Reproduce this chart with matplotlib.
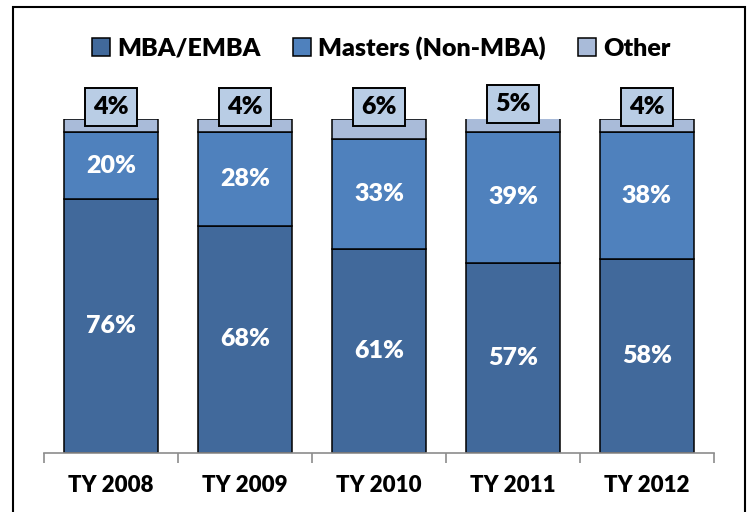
import numpy as np
import matplotlib.pyplot as plt
from matplotlib.patches import Rectangle, Patch

years = ["TY 2008", "TY 2009", "TY 2010", "TY 2011", "TY 2012"]
mba = [76, 68, 61, 57, 58]
masters = [20, 28, 33, 39, 38]
other = [4, 4, 6, 5, 4]

c_mba = "#41699B"
c_mas = "#4F81BD"
c_oth = "#A9BBD9"
c_box = "#B9CDE5"

plt.rcParams['font.family'] = ['Lato', 'DejaVu Sans']

fig = plt.figure(figsize=(7.48, 5.12), dpi=100)
ax = fig.add_axes([0.0588, 0.1152, 0.8957, 0.6524])

x = np.arange(len(years))
mba_f = np.array(mba) / 100
mas_f = np.array(masters) / 100
oth_f = np.array(other) / 100

ax.bar(x, mba_f, 0.7, color=c_mba, edgecolor="black", linewidth=1.1)
ax.bar(x, mas_f, 0.7, bottom=mba_f, color=c_mas, edgecolor="black", linewidth=1.1)
ax.bar(x, oth_f, 0.7, bottom=mba_f + mas_f, color=c_oth, edgecolor="black", linewidth=1.1)

for i in range(len(years)):
    ax.text(x[i], mba_f[i] / 2, f"{mba[i]}%", ha="center", va="center",
            color="white", fontsize=18, fontweight="heavy")
    ax.text(x[i], mba_f[i] + mas_f[i] / 2, f"{masters[i]}%", ha="center", va="center",
            color="white", fontsize=18, fontweight="heavy")
    top = mba_f[i] + mas_f[i] + oth_f[i]
    ax.annotate(f"{other[i]}%", (x[i], top), xytext=(0, 12), textcoords="offset pixels",
                ha="center", va="center", fontsize=18, fontweight="heavy", color="black",
                bbox=dict(boxstyle="square,pad=0.32", fc=c_box, ec="black", lw=1.4),
                annotation_clip=False)

ax.set_xlim(-0.5, len(years) - 0.5)
ax.set_ylim(0, 1)
ax.set_xticks(x)
ax.set_xticklabels(years, fontsize=16, fontweight="heavy")
ax.set_xticks(np.arange(-0.5, len(years)), minor=True)
ax.tick_params(axis="x", which="major", length=0, pad=16)
ax.tick_params(axis="x", which="minor", length=7, color="#8c8c8c", width=1.2)
ax.set_yticks([])
for s in ["left", "right", "top"]:
    ax.spines[s].set_visible(False)
ax.spines["bottom"].set_color("#8c8c8c")
ax.spines["bottom"].set_linewidth(1.2)

handles = [Patch(fc=c_mba, ec="black", lw=1.1), Patch(fc=c_mas, ec="black", lw=1.1),
           Patch(fc=c_oth, ec="black", lw=1.1)]
fig.legend(handles, ["MBA/EMBA", "Masters (Non-MBA)", "Other"], loc="center",
           bbox_to_anchor=(0.51, 0.906), ncol=3, frameon=False,
           prop=dict(size=18, weight="heavy"), handlelength=0.7, handleheight=0.7,
           handletextpad=0.3, columnspacing=1.3)

fig.patches.append(Rectangle((13 / 748, -0.02), 732 / 748, 1.006, transform=fig.transFigure,
                             fill=False, ec="black", lw=1.5))

fig.savefig("out.png", dpi=100)
